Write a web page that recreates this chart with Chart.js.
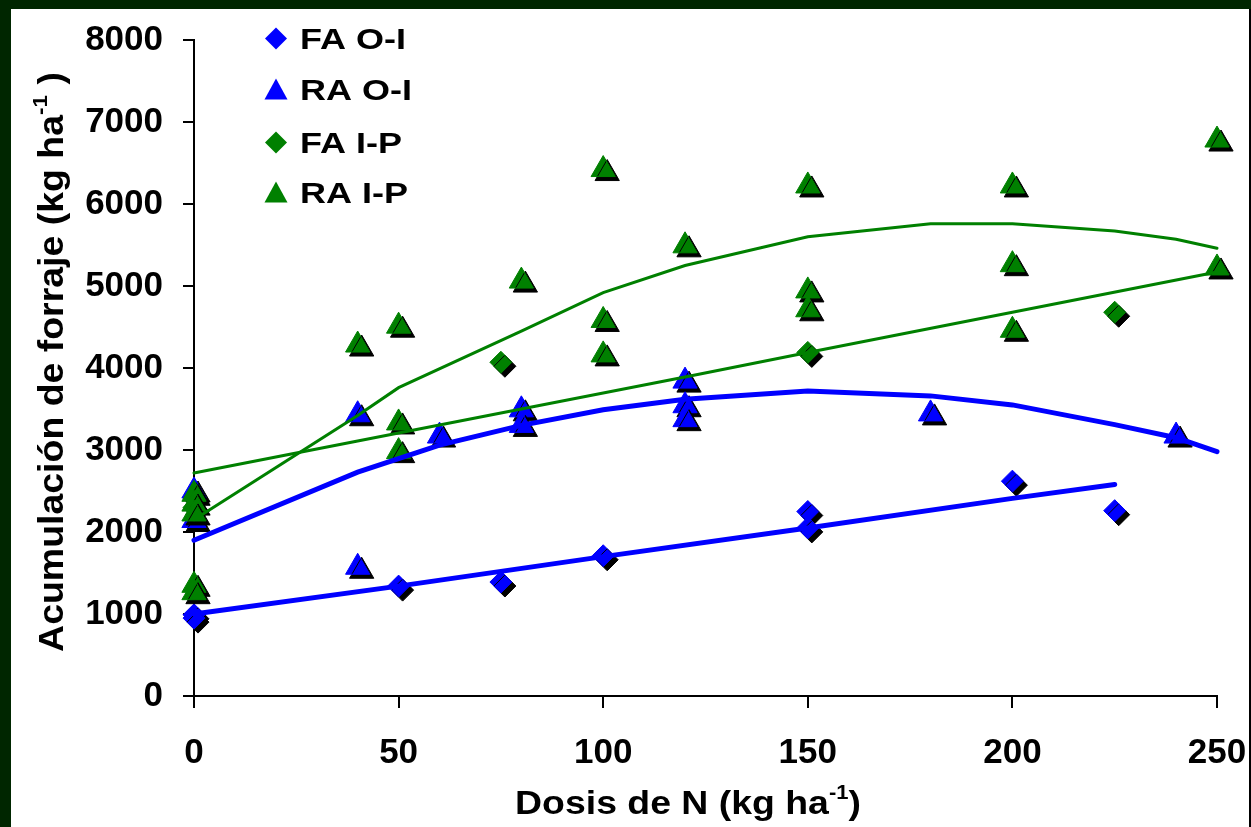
<!DOCTYPE html>
<html>
<head>
<meta charset="utf-8">
<script src="https://cdn.jsdelivr.net/npm/chart.js@4/dist/chart.umd.min.js"></script>
<style>
  html, body { margin: 0; padding: 0; background: #002600; }
  #wrap { width: 1251px; height: 827px; }
</style>
</head>
<body>
<div id="wrap"><canvas id="myChart" width="1251" height="827"></canvas></div>
<script>
// observed points
var faOI_x = [0, 0, 50, 75, 100, 150, 150, 200, 225];
var faOI_y = [990, 950, 1340, 1390, 1710, 2250, 2050, 2620, 2260];

var raOI_x = [0, 0, 40, 40, 60, 80, 80, 120, 120, 120, 180, 240];
var raOI_y = [2500, 2140, 3430, 1570, 3170, 3490, 3300, 3840, 3540, 3370, 3440, 3170];

var faIP_x = [0, 75, 150, 225];
var faIP_y = [2300, 4070, 4190, 4680];

var raIP_x = [0, 0, 0, 0, 0, 40, 50, 50, 50, 80, 100, 100, 100, 120, 150, 150, 150, 200, 200, 200, 250, 250];
var raIP_y = [2460, 2340, 2220, 1350, 1260, 4280, 4510, 3330, 2980, 5060, 6420, 4580, 4160, 5490, 6220, 4940, 4710, 6220, 5260, 4460, 6780, 5220];

// fitted curves
var faOI_fit_x = [0, 50, 75, 100, 150, 200, 225];
var faOI_fit_y = [1000, 1340, 1520, 1700, 2050, 2410, 2580];

var raOI_fit_x = [0, 40, 60, 80, 100, 120, 150, 180, 200, 225, 240, 250];
var raOI_fit_y = [1900, 2730, 3060, 3300, 3490, 3620, 3720, 3660, 3550, 3310, 3150, 2980];

var faIP_fit_x = [0, 40, 80, 120, 150, 200, 250];
var faIP_fit_y = [2720, 3110, 3500, 3890, 4190, 4680, 5170];

var raIP_fit_x = [0, 40, 50, 80, 100, 120, 150, 180, 200, 225, 240, 250];
var raIP_fit_y = [2150, 3420, 3760, 4450, 4920, 5250, 5600, 5760, 5760, 5670, 5570, 5460];

var legendNames = ['FA O-I', 'RA O-I', 'FA I-P', 'RA I-P'];
var xTitle = 'Dosis de N (kg ha';
var yTitle = 'Acumulaci\u00f3n de forraje (kg ha';

var BLUE = '#0000ff';
var GREEN = '#008000';
var FONT = "'Liberation Sans', Arial, sans-serif";

function pts(xs, ys) {
    return xs.map(function (x, i) { return { x: x, y: ys[i] }; });
}

function pointSet(label, xs, ys, color, style, r, order) {
    return {
        label: label, data: pts(xs, ys), showLine: false,
        pointStyle: style, pointRadius: r, pointHoverRadius: r,
        backgroundColor: color, borderColor: color, borderWidth: 1,
        order: order, clip: false, shadow: true
    };
}

function lineSet(xs, ys, color, w) {
    return {
        label: '', data: pts(xs, ys), showLine: true, pointRadius: 0,
        borderColor: color, borderWidth: w, tension: 0, fill: false,
        order: 0, clip: false, borderCapStyle: 'round'
    };
}

var background = {
    id: 'background',
    beforeDraw: function (chart) {
        var ctx = chart.ctx;
        ctx.save();
        ctx.fillStyle = '#002600';
        ctx.fillRect(0, 0, chart.width, chart.height);
        ctx.fillStyle = '#ffffff';
        ctx.fillRect(11, 9, 1239, chart.height - 9);
        ctx.fillStyle = '#000000';
        ctx.fillRect(1249, 9, 2, chart.height - 9);
        ctx.restore();
    }
};

var shadow = {
    id: 'shadow',
    beforeDatasetDraw: function (chart, args) {
        if (chart.data.datasets[args.index].shadow) {
            var ctx = chart.ctx;
            ctx.save();
            ctx.shadowColor = '#000000';
            ctx.shadowOffsetX = 4;
            ctx.shadowOffsetY = 4;
            ctx.shadowBlur = 0;
        }
    },
    afterDatasetDraw: function (chart, args) {
        if (chart.data.datasets[args.index].shadow) chart.ctx.restore();
    }
};

// text with superscript, stretched along the writing direction
function supText(ctx, main, sup, tail, size, stretch) {
    ctx.font = 'bold ' + size + 'px ' + FONT;
    var w1 = ctx.measureText(main).width;
    var w3 = ctx.measureText(tail).width;
    ctx.font = 'bold ' + Math.round(size * 0.6) + 'px ' + FONT;
    var w2 = ctx.measureText(sup).width;
    var total = (w1 + w2 + w3) * stretch;
    ctx.save();
    ctx.scale(stretch, 1);
    var x0 = -total / 2 / stretch;
    ctx.font = 'bold ' + size + 'px ' + FONT;
    ctx.fillText(main, x0, 0);
    ctx.font = 'bold ' + Math.round(size * 0.6) + 'px ' + FONT;
    ctx.fillText(sup, x0 + w1, -size * 0.45);
    ctx.font = 'bold ' + size + 'px ' + FONT;
    ctx.fillText(tail, x0 + w1 + w2, 0);
    ctx.restore();
}

var titles = {
    id: 'titles',
    afterDraw: function (chart) {
        var ctx = chart.ctx;
        ctx.save();
        ctx.fillStyle = '#000000';
        ctx.textBaseline = 'alphabetic';
        ctx.textAlign = 'left';

        ctx.save();
        ctx.translate(688, 814);
        supText(ctx, xTitle, '-1', ')', 34, 1.1);
        ctx.restore();

        ctx.save();
        ctx.translate(63, 362);
        ctx.rotate(-Math.PI / 2);
        supText(ctx, yTitle, '-1', ' )', 35, 1.07);
        ctx.restore();

        // legend
        var styles = ['diamond', 'triangle', 'diamond', 'triangle'];
        var colors = [BLUE, BLUE, GREEN, GREEN];
        var base = [49, 100, 153, 203];
        for (var i = 0; i < legendNames.length; i++) {
            var cx = 276, cy = base[i] - 10.5;
            ctx.fillStyle = colors[i];
            ctx.beginPath();
            if (styles[i] === 'diamond') {
                ctx.moveTo(cx, cy - 11);
                ctx.lineTo(cx + 11, cy);
                ctx.lineTo(cx, cy + 11);
                ctx.lineTo(cx - 11, cy);
            } else {
                ctx.moveTo(cx, cy - 11);
                ctx.lineTo(cx + 11.5, cy + 10);
                ctx.lineTo(cx - 11.5, cy + 10);
            }
            ctx.closePath();
            ctx.fill();

            ctx.save();
            ctx.fillStyle = '#000000';
            ctx.font = 'bold 30px ' + FONT;
            ctx.translate(300, base[i]);
            ctx.scale(1.2, 1);
            ctx.fillText(legendNames[i], 0, 0);
            ctx.restore();
        }
        ctx.restore();
    }
};

function plainTick(v) { return String(v); }

var ctx = document.getElementById('myChart').getContext('2d');
var myChart = new Chart(ctx, {
    type: 'scatter',
    data: {
        datasets: [
            lineSet(faOI_fit_x, faOI_fit_y, BLUE, 5),
            lineSet(raOI_fit_x, raOI_fit_y, BLUE, 5),
            lineSet(faIP_fit_x, faIP_fit_y, GREEN, 3),
            lineSet(raIP_fit_x, raIP_fit_y, GREEN, 3),
            pointSet(legendNames[0], faOI_x, faOI_y, BLUE, 'rectRot', 11, 4),
            pointSet(legendNames[1], raOI_x, raOI_y, BLUE, 'triangle', 14, 3),
            pointSet(legendNames[2], faIP_x, faIP_y, GREEN, 'rectRot', 11, 2),
            pointSet(legendNames[3], raIP_x, raIP_y, GREEN, 'triangle', 14, 1)
        ]
    },
    options: {
        responsive: false,
        animation: false,
        events: [],
        layout: { padding: { left: 0, top: 40, right: 34, bottom: 0 } },
        plugins: { legend: { display: false }, tooltip: { enabled: false } },
        scales: {
            x: {
                type: 'linear', min: 0, max: 250,
                ticks: { stepSize: 50, color: '#000', padding: 24, callback: plainTick,
                         font: { family: FONT, size: 35, weight: 'bold' } },
                grid: { drawOnChartArea: false, drawTicks: true, tickLength: 12, color: '#000', lineWidth: 2 },
                border: { display: true, color: '#000', width: 2 },
                afterFit: function (scale) {
                    scale.height = 131;
                    scale.paddingLeft = 0;
                    scale.paddingRight = 0;
                }
            },
            y: {
                type: 'linear', min: 0, max: 8000,
                ticks: { stepSize: 1000, color: '#000', padding: 20, callback: plainTick,
                         font: { family: FONT, size: 35, weight: 'bold' } },
                grid: { drawOnChartArea: false, drawTicks: true, tickLength: 11, color: '#000', lineWidth: 2 },
                border: { display: true, color: '#000', width: 2 },
                afterFit: function (scale) {
                    scale.width = 194;
                    scale.paddingTop = 0;
                    scale.paddingBottom = 0;
                }
            }
        }
    },
    plugins: [background, shadow, titles]
});
</script>
</body>
</html>
